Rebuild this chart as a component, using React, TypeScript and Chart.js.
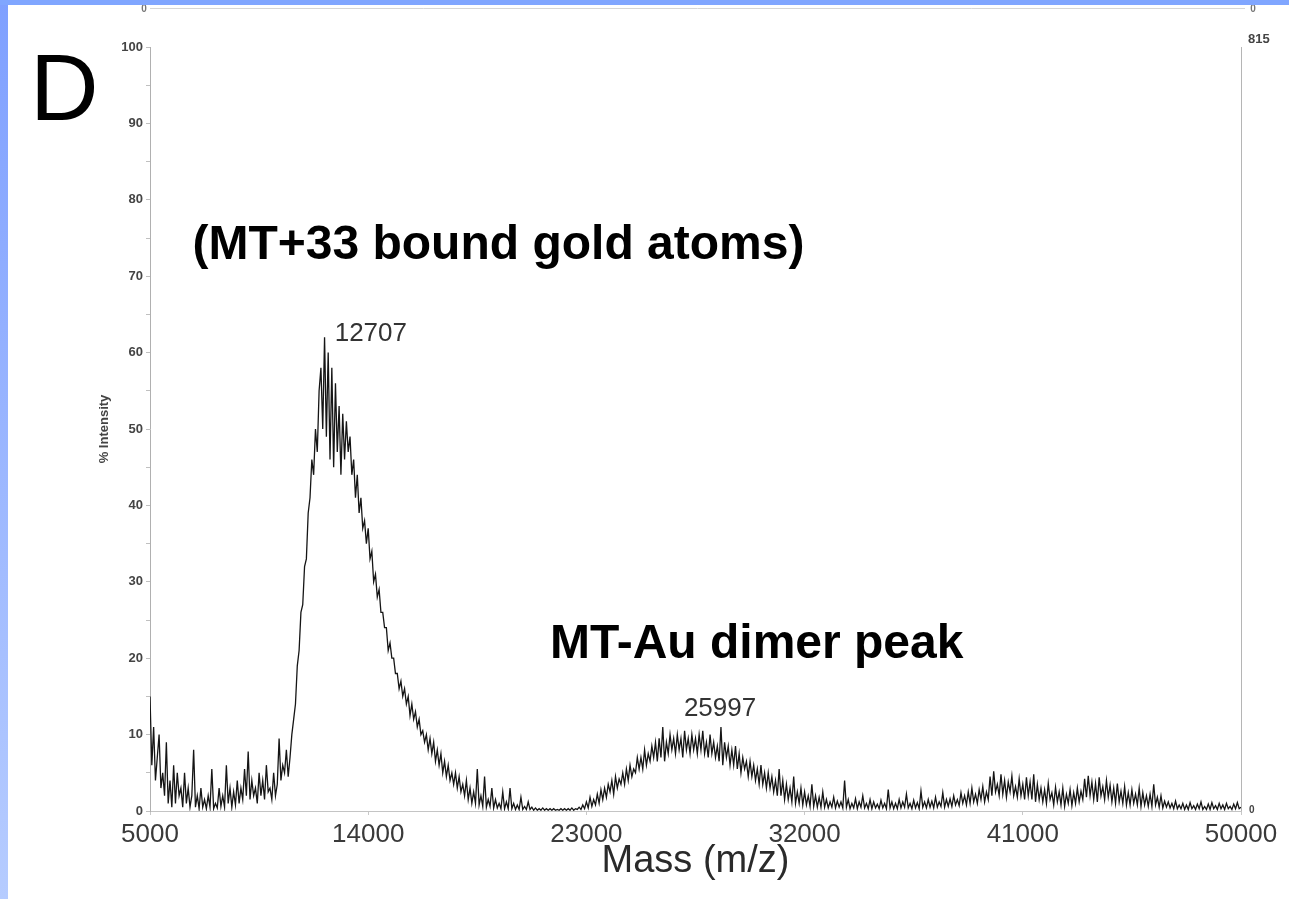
import React, { useEffect, useRef } from "react";
import { Chart, registerables } from "chart.js";

Chart.register(...registerables);

// ---- data ----
const MASS_START = 5000; // m/z of first sample
const MASS_STEP = 75; // sampling interval (m/z)
const INTENSITY = [
  15, 6, 11, 4, 7, 10, 3, 5, 2, 9,
  1, 4, 0.5, 6, 1, 5, 2, 3, 0.5, 5,
  1, 3, 0.5, 2, 8, 0.5, 2, 0.3, 3, 0.5,
  1.5, 0.3, 2, 0.5, 5.5, 0.3, 1, 0.4, 3, 0.6,
  2, 0.5, 6, 1, 3, 0.5, 2.5, 0.8, 4, 1,
  3, 1.5, 5.5, 2, 7.8, 1.5, 4, 2, 3, 1,
  5, 2, 4, 1.5, 6, 2.5, 3, 1.5, 5, 2,
  3.5, 9.5, 4, 6, 5, 8, 4.5, 7, 10, 12,
  14, 19, 21, 26, 27, 32, 33, 39, 41, 46,
  44, 50, 47, 55, 58, 50, 62, 49, 60, 46,
  58, 45, 56, 47, 53, 44, 52, 46, 51, 47,
  49, 44, 46, 41, 44, 39, 41, 37, 38, 35,
  37, 33, 34, 30, 31, 28, 29, 26, 26, 24,
  24, 21, 22, 20, 20, 18, 18, 16, 17, 15,
  16, 14, 15, 12.5, 14, 12, 13, 11, 12, 10,
  10.5, 9, 10, 8, 9.5, 7.5, 9, 6.5, 8, 6,
  7.5, 5, 6.5, 4.5, 6, 4, 5, 3.5, 5, 3,
  4.5, 2.5, 3.5, 2, 4, 1.5, 3, 1, 2.5, 1,
  5.5, 0.8, 2, 0.6, 4.5, 0.5, 1.5, 0.6, 3, 0.4,
  1.5, 0.4, 1, 0.3, 2.5, 0.3, 1.2, 0.3, 3, 0.3,
  1, 0.2, 0.8, 0.2, 1.8, 0.2, 0.6, 0.2, 1.2, 0.2,
  0.5, 0.1, 0.4, 0.1, 0.3, 0.1, 0.4, 0.1, 0.3, 0.1,
  0.3, 0.1, 0.3, 0.1, 0.2, 0.1, 0.3, 0.1, 0.3, 0.1,
  0.3, 0.1, 0.4, 0.1, 0.3, 0.2, 0.5, 0.2, 0.8, 0.3,
  1.2, 0.4, 1.8, 0.6, 1.5, 0.8, 2.2, 1, 2.8, 1.5,
  3, 1.8, 3.5, 2.5, 4, 2.2, 4.5, 3, 4.2, 3.5,
  5, 3.5, 5.5, 4, 6, 4.5, 5.5, 5, 7, 5.5,
  7, 5.5, 8, 6, 7.5, 6.5, 8.5, 7, 9, 6.5,
  9.5, 7, 11, 6.5, 9, 7.5, 10, 8, 9.5, 7.5,
  10, 8, 9.5, 7, 10.5, 8, 9.5, 7.5, 10, 8,
  9.5, 7.5, 10, 8, 10.5, 7.5, 9, 7, 10, 7.5,
  9, 7, 8.5, 6.5, 11, 6, 9, 7, 8.5, 6,
  8, 6, 8.5, 5.5, 7.5, 5, 7, 5.5, 6.5, 4.5,
  6.5, 4.5, 6, 4, 5.5, 3.5, 6, 3.5, 5, 3,
  5, 3, 4.5, 2.5, 4, 2, 5.5, 2, 4, 1.5,
  3.5, 1.5, 3, 1.2, 4.5, 1, 2.5, 1, 3, 0.8,
  2.5, 0.8, 2, 0.6, 3.5, 0.6, 2, 0.5, 1.8, 0.5,
  2.5, 0.5, 1.5, 0.4, 1.2, 0.5, 1.8, 0.4, 1.3, 0.5,
  1.2, 0.4, 4, 0.5, 1.5, 0.3, 1, 0.4, 1.6, 0.3,
  1.2, 0.5, 2, 0.4, 1, 0.3, 1.5, 0.3, 1.2, 0.4,
  0.9, 0.3, 1.4, 0.4, 1, 0.3, 2.8, 0.4, 1.2, 0.3,
  1, 0.3, 1.5, 0.4, 1.2, 0.5, 2.2, 0.4, 1, 0.3,
  1.4, 0.4, 1.1, 0.3, 2.6, 0.5, 1.2, 0.4, 1.5, 0.5,
  1.3, 0.4, 1.8, 0.5, 1.2, 0.6, 2.4, 0.5, 1.5, 0.6,
  1.6, 0.6, 2, 0.8, 1.5, 0.7, 2.4, 1, 2, 0.8,
  2.5, 1, 3, 1.2, 2.2, 1, 2.8, 1.5, 3.2, 1.2,
  2.5, 1.5, 4.5, 2, 5.2, 2.5, 3.5, 2, 4.8, 2.2,
  4, 1.8, 3.8, 2.5, 4.6, 2, 3.2, 1.8, 4.2, 2,
  3.5, 1.5, 4.4, 2, 3.8, 1.5, 4.8, 1.2, 3.5, 1.5,
  3, 1.2, 2.8, 1, 3.6, 1.5, 2.4, 0.8, 3.1, 1.2,
  2.5, 0.8, 3, 0.6, 2.2, 1, 2.8, 0.7, 2.4, 1,
  3, 1.2, 2.6, 1.5, 4.2, 1.8, 4.6, 2, 3.8, 1.5,
  3.6, 1.2, 4.4, 2, 3.2, 1.5, 4, 1.8, 3.4, 1.2,
  3, 1, 3.6, 1.2, 2.6, 1, 3.2, 0.8, 2.4, 0.8,
  2.8, 1, 2.2, 0.8, 3, 0.6, 2.4, 0.8, 2, 0.6,
  2.2, 0.6, 3.5, 0.8, 1.8, 0.5, 2, 0.4, 1.3, 0.5,
  1.2, 0.4, 1, 0.3, 1.3, 0.3, 0.8, 0.3, 1, 0.2,
  0.8, 0.2, 1.1, 0.3, 0.7, 0.2, 0.9, 0.3, 1.2, 0.2,
  0.6, 0.2, 0.9, 0.2, 1.1, 0.3, 0.7, 0.2, 1, 0.3,
  0.8, 0.2, 1, 0.3, 0.6, 0.2, 0.9, 0.3, 1.1, 0.3,
  0.5,
];
const X_TICKS = [5000, 14000, 23000, 32000, 41000, 50000];
const Y_MAX = 100;
const RIGHT_AXIS_LABELS = ["815", "0"];
const PEAK_MASSES = [12707, 25997];
const PANEL_LETTER = "D";
const ANNOTATIONS = ["(MT+33 bound gold atoms)", "MT-Au dimer peak"];
const X_TITLE = "Mass (m/z)";
const Y_TITLE = "% Intensity";

const FONT = "'Liberation Sans', Arial, Helvetica, sans-serif";

const overlayPlugin = {
  id: "overlay",
  afterDraw(chart: any) {
    const { ctx, chartArea } = chart;
    const xs = chart.scales.x;
    const ys = chart.scales.y;
    ctx.save();
    // right frame line
    ctx.strokeStyle = "#b5b5b5";
    ctx.lineWidth = 1;
    ctx.beginPath();
    ctx.moveTo(chartArea.right + 0.5, chartArea.top);
    ctx.lineTo(chartArea.right + 0.5, chartArea.bottom);
    ctx.stroke();
    // remnant of upper panel axis
    ctx.strokeStyle = "#d6d6d6";
    ctx.beginPath();
    ctx.moveTo(chartArea.left, 8.5);
    ctx.lineTo(chartArea.right + 4, 8.5);
    ctx.stroke();
    ctx.fillStyle = "#777";
    ctx.font = `bold 10px ${FONT}`;
    ctx.textAlign = "center";
    ctx.textBaseline = "middle";
    ctx.fillText("0", chartArea.left - 6, 9);
    ctx.fillText("0", chartArea.right + 12, 9);

    // right axis labels
    ctx.fillStyle = "#444";
    ctx.font = `bold 13px ${FONT}`;
    ctx.textAlign = "left";
    ctx.fillText(RIGHT_AXIS_LABELS[0], chartArea.right + 7, chartArea.top - 8);
    ctx.font = `bold 10px ${FONT}`;
    ctx.fillText(RIGHT_AXIS_LABELS[1], chartArea.right + 8, chartArea.bottom - 1);

    // panel letter
    ctx.fillStyle = "#000";
    ctx.font = `95px ${FONT}`;
    ctx.textAlign = "left";
    ctx.textBaseline = "alphabetic";
    ctx.fillText(PANEL_LETTER, 30, 120);

    // annotations
    ctx.font = `bold 48px ${FONT}`;
    ctx.textBaseline = "middle";
    ctx.fillText(ANNOTATIONS[0], xs.getPixelForValue(6750), ys.getPixelForValue(74.0));
    ctx.fillText(ANNOTATIONS[1], xs.getPixelForValue(21500), ys.getPixelForValue(21.8));

    // peak labels
    ctx.fillStyle = "#333";
    ctx.font = `26px ${FONT}`;
    ctx.textAlign = "center";
    ctx.fillText(String(PEAK_MASSES[0]), xs.getPixelForValue(PEAK_MASSES[0]) + 34, ys.getPixelForValue(62.5));
    ctx.fillText(String(PEAK_MASSES[1]), xs.getPixelForValue(PEAK_MASSES[1]) + 61, ys.getPixelForValue(13.4));
    ctx.restore();
  },
};

export default function App() {
  const canvasRef = useRef<HTMLCanvasElement | null>(null);

  useEffect(() => {
    const canvas = canvasRef.current;
    if (!canvas) return;
    const points = INTENSITY.map((v, i) => ({ x: MASS_START + i * MASS_STEP, y: v }));
    const chart = new Chart(canvas, {
      type: "line",
      data: {
        datasets: [
          {
            data: points,
            borderColor: "#151515",
            borderWidth: 1.3,
            pointRadius: 0,
            tension: 0,
            fill: false,
          },
        ],
      },
      options: {
        animation: false,
        responsive: false,
        devicePixelRatio: 1,
        layout: { padding: { left: 0, top: 47, right: 48, bottom: 0 } },
        plugins: {
          legend: { display: false },
          tooltip: { enabled: false },
        },
        scales: {
          x: {
            type: "linear",
            min: X_TICKS[0],
            max: X_TICKS[X_TICKS.length - 1],
            afterBuildTicks: (scale: any) => {
              scale.ticks = X_TICKS.map((v) => ({ value: v }));
            },
            afterFit: (scale: any) => {
              scale.height = 88;
            },
            grid: { drawOnChartArea: false, drawTicks: true, tickLength: 4, color: "#c8c8c8" },
            border: { display: true, color: "#c4c4c4", width: 1 },
            ticks: {
              color: "#3a3a3a",
              font: { family: FONT, size: 26 },
              padding: 4,
              maxRotation: 0,
              autoSkip: false,
              callback: (v: any) => String(v),
            },
            title: {
              display: true,
              text: X_TITLE,
              color: "#2a2a2a",
              font: { family: FONT, size: 38 },
              padding: { top: 0, bottom: 15 },
            },
          },
          y: {
            type: "linear",
            min: 0,
            max: Y_MAX,
            afterFit: (scale: any) => {
              scale.width = 150;
            },
            grid: { drawOnChartArea: false, drawTicks: true, tickLength: 4, color: "#c0c0c0" },
            border: { display: true, color: "#b0b0b0", width: 1 },
            ticks: {
              stepSize: 5,
              color: "#444",
              font: { family: FONT, size: 13, weight: "bold" },
              padding: 3,
              autoSkip: false,
              callback: (v: any) => (Number(v) % 10 === 0 ? String(v) : ""),
            },
            title: {
              display: true,
              text: Y_TITLE,
              color: "#444",
              font: { family: FONT, size: 13, weight: "bold" },
              padding: { top: 97, bottom: 0 },
            },
          },
        },
      },
      plugins: [overlayPlugin],
    } as any);
    return () => chart.destroy();
  }, []);

  return (
    <div
      style={{
        position: "absolute",
        left: 0,
        top: 0,
        width: 1289,
        height: 899,
        background: "#ffffff",
        overflow: "hidden",
      }}
    >
      <canvas ref={canvasRef} width={1289} height={899} style={{ position: "absolute", left: 0, top: 0 }} />
      <div
        style={{
          position: "absolute",
          left: 0,
          top: 0,
          width: 8,
          height: 899,
          background: "linear-gradient(to bottom, #7fa0ff, #b6ccff)",
        }}
      />
      <div
        style={{
          position: "absolute",
          left: 0,
          top: 0,
          width: 1289,
          height: 5,
          background: "#80a6ff",
        }}
      />
    </div>
  );
}
